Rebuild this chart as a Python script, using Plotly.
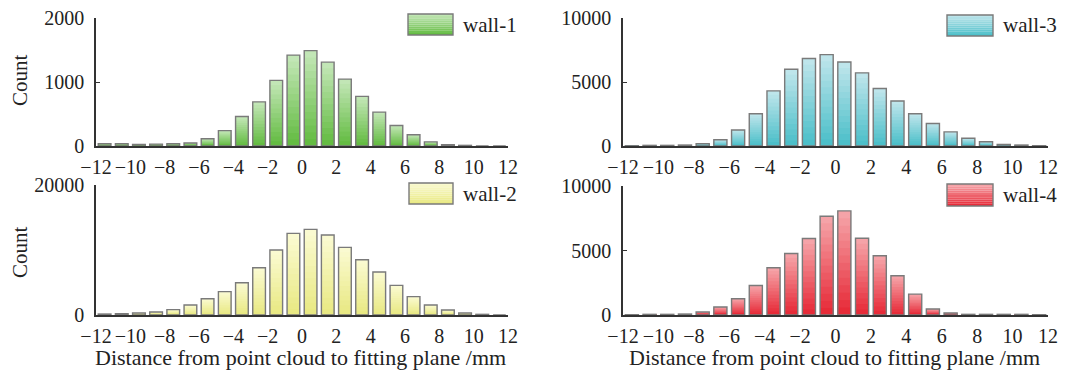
import plotly.graph_objects as go

# ---- data ----
bin_centers = [-11.5, -10.5, -9.5, -8.5, -7.5, -6.5, -5.5, -4.5, -3.5, -2.5, -1.5, -0.5,
               0.5, 1.5, 2.5, 3.5, 4.5, 5.5, 6.5, 7.5, 8.5, 9.5, 10.5, 11.5]
wall1 = [36, 36, 25, 30, 36, 46, 113, 240, 460, 690, 1025, 1420,
         1490, 1310, 1045, 775, 530, 320, 175, 65, 20, 10, 0, 0]
wall2 = [150, 200, 300, 460, 820, 1540, 2510, 3590, 4970, 7280, 10000, 12560,
         13180, 12300, 10400, 8510, 6615, 4560, 2820, 1540, 770, 310, 100, 0]
wall3 = [20, 50, 50, 75, 180, 485, 1250, 2525, 4310, 5995, 6840, 7140,
         6560, 5715, 4490, 3520, 2525, 1760, 1100, 610, 330, 130, 75, 25]
wall4 = [25, 50, 50, 75, 230, 620, 1260, 2290, 3660, 4770, 5930, 7650,
         8070, 5950, 4590, 3040, 1620, 460, 150, 50, 50, 50, 50, 25]
names = ["wall-1", "wall-2", "wall-3", "wall-4"]
x_ticks = [-12, -10, -8, -6, -4, -2, 0, 2, 4, 6, 8, 10, 12]
x_tick_labels = ["\u221212", "\u221210", "\u22128", "\u22126", "\u22124", "\u22122",
                 "0", "2", "4", "6", "8", "10", "12"]
y_ticks = {"wall-1": [0, 1000, 2000], "wall-2": [0, 20000],
           "wall-3": [0, 5000, 10000], "wall-4": [0, 5000, 10000]}
y_tick_labels = {"wall-1": ["0", "1000", "2000"], "wall-2": ["0", "20000"],
                 "wall-3": ["0", "5000", "10000"], "wall-4": ["0", "5000", "10000"]}
y_max = {"wall-1": 2000, "wall-2": 20000, "wall-3": 10000, "wall-4": 10000}
x_title = "Distance from point cloud to fitting plane /mm"
y_title = "Count"

# ---- styling ----
SCREEN_W, SCREEN_H = 1066, 375
OFF = 8                      # page body margin
W, H = SCREEN_W - OFF, SCREEN_H - OFF
FONT = "Liberation Serif"
FS = 20
grad = {  # (top colour, bottom colour)
    "wall-1": ((198, 232, 186), (96, 186, 62)),
    "wall-2": ((251, 251, 212), (232, 232, 128)),
    "wall-3": ((194, 230, 236), (72, 190, 200)),
    "wall-4": ((246, 168, 172), (230, 38, 52)),
}
# panel screen-pixel boxes: (left, right, top, bottom)
boxes = {
    "wall-1": (96, 508, 18, 146),
    "wall-3": (623, 1048, 18, 146),
    "wall-2": (96, 508, 185, 315),
    "wall-4": (623, 1048, 186, 315),
}
legend_px = {
    "wall-1": (408, 453, 14, 35),
    "wall-3": (947, 993, 15, 36),
    "wall-2": (409, 453, 183, 204),
    "wall-4": (947, 993, 184, 206),
}
series = {"wall-1": wall1, "wall-2": wall2, "wall-3": wall3, "wall-4": wall4}
axis_ids = {"wall-1": "", "wall-2": "2", "wall-3": "3", "wall-4": "4"}


def px_x(p):
    return (p - OFF) / W


def px_y(p):
    return 1 - (p - OFF) / H


def mix(c1, c2, t):
    return "rgb(%d,%d,%d)" % tuple(round(a + (b - a) * t) for a, b in zip(c1, c2))


fig = go.Figure()
N = 14
BW = 0.74
shapes = []
annotations = []
layout = {}
for nm in names:
    vals = series[nm]
    aid = axis_ids[nm]
    top_c, bot_c = grad[nm]
    for k in range(N):
        frac = 1 - k / N
        tmid = (k + 0.5) / N
        fig.add_trace(go.Bar(
            x=bin_centers, y=[v * frac for v in vals], width=BW,
            marker=dict(color=mix(top_c, bot_c, tmid), line=dict(width=0)),
            xaxis="x" + aid, yaxis="y" + aid, showlegend=False, hoverinfo="skip"))
    fig.add_trace(go.Bar(
        x=bin_centers, y=vals, width=BW, name=nm,
        marker=dict(color="rgba(0,0,0,0)", line=dict(color="#7a7a7a", width=1.4)),
        xaxis="x" + aid, yaxis="y" + aid, showlegend=False))

    l, r, t, b = boxes[nm]
    xa = dict(domain=[px_x(l), px_x(r)], range=[-12, 12],
              tickvals=x_ticks, ticktext=x_tick_labels, tickangle=0,
              showline=True, linecolor="#333", linewidth=1.6, ticks="",
              showgrid=False, zeroline=False, anchor="y" + aid, automargin=False,
              ticklabelstandoff=2, ticklabeloverflow="allow",
              tickfont=dict(family=FONT, size=FS, color="#222"))
    ya = dict(domain=[px_y(b), px_y(t)], range=[0, y_max[nm]],
              tickvals=y_ticks[nm], ticktext=y_tick_labels[nm],
              showline=True, linecolor="#333", linewidth=1.6, ticks="inside",
              ticklen=4, tickcolor="#333", tickwidth=1.2,
              showgrid=False, zeroline=False, anchor="x" + aid, automargin=False,
              ticklabelstandoff=6, ticklabeloverflow="allow",
              tickfont=dict(family=FONT, size=FS, color="#222"))
    layout["xaxis" + aid] = xa
    layout["yaxis" + aid] = ya

    # legend swatch with gradient
    lx0, lx1, ly0, ly1 = legend_px[nm]
    S = 10
    for s in range(S):
        y0 = ly0 + (ly1 - ly0) * s / S
        y1 = ly0 + (ly1 - ly0) * (s + 1) / S
        shapes.append(dict(type="rect", xref="paper", yref="paper",
                           x0=px_x(lx0), x1=px_x(lx1), y0=px_y(y0), y1=px_y(y1),
                           fillcolor=mix(top_c, bot_c, (s + 0.5) / S),
                           line=dict(width=0), layer="above"))
    shapes.append(dict(type="rect", xref="paper", yref="paper",
                       x0=px_x(lx0), x1=px_x(lx1), y0=px_y(ly0), y1=px_y(ly1),
                       fillcolor="rgba(0,0,0,0)", line=dict(color="#7a7a7a", width=1.4),
                       layer="above"))
    annotations.append(dict(text=nm, xref="paper", yref="paper",
                            x=px_x(lx1 + 8), y=px_y((ly0 + ly1) / 2),
                            xanchor="left", yanchor="middle", showarrow=False,
                            font=dict(family=FONT, size=FS + 1, color="#222")))

# y titles
for cy in (80, 252):
    annotations.append(dict(text=y_title, xref="paper", yref="paper",
                            x=px_x(20), y=px_y(cy), textangle=-90,
                            xanchor="center", yanchor="middle", showarrow=False,
                            font=dict(family=FONT, size=FS + 1, color="#222")))
# x titles
for cx in (300, 834):
    annotations.append(dict(text=x_title, xref="paper", yref="paper",
                            x=px_x(cx), y=px_y(357),
                            xanchor="center", yanchor="middle", showarrow=False,
                            font=dict(family=FONT, size=FS + 2, color="#222")))

fig.update_layout(
    width=W, height=H, margin=dict(l=0, r=0, t=0, b=0, autoexpand=False),
    paper_bgcolor="white", plot_bgcolor="white",
    barmode="overlay", showlegend=False,
    shapes=shapes, annotations=annotations, **layout)

fig.write_html("out.html")
